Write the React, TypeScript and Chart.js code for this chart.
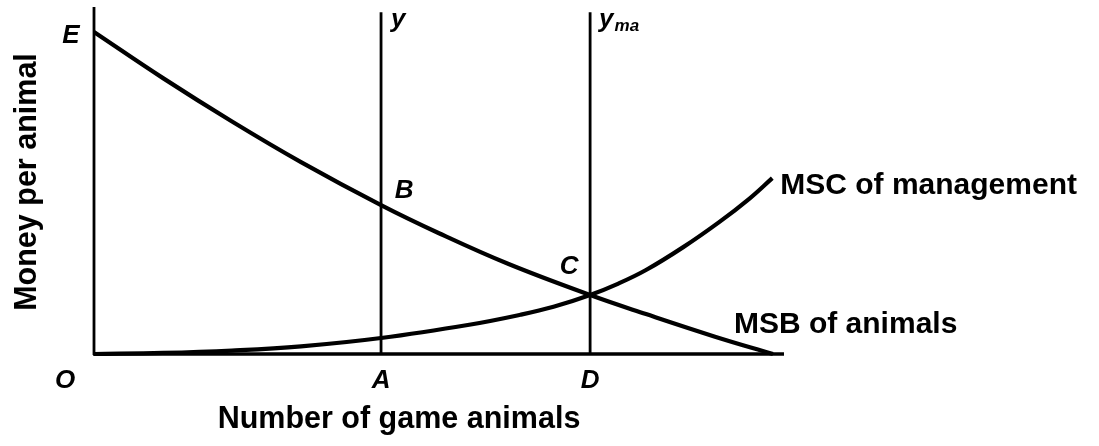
import { useEffect, useRef } from 'react';
import { Chart, registerables } from 'chart.js';

Chart.register(...registerables);

// ---- data ----
const msbX = [0, 10, 20, 30, 41.6, 50, 60, 71.9, 80, 90, 98.4];
const msbY = [92.8, 79.5, 67, 55.3, 42.9, 34.8, 26, 17, 11.5, 5, 0];

const mscX = [0, 10, 20, 30, 41.6, 54.6, 61.8, 66.6, 71.9, 76, 80, 85.4, 90.6, 95, 98.3];
const mscY = [0, 0.3, 1.0, 2.2, 4.6, 8.5, 11.3, 13.6, 17, 20.3, 24.2, 30.8, 38, 44.8, 50.7];

const markerX = [41.6, 71.9]; // A and D
const markerTop = 98.5;

const curveNames = ['MSB of animals', 'MSC of management'];
const axisTitleX = 'Number of game animals';
const axisTitleY = 'Money per animal';

const W = 1099;
const H = 446;

function pts(xs: number[], ys: number[]) {
  return xs.map((x, i) => ({ x, y: ys[i] }));
}

const FONT = '"Liberation Sans", Arial, sans-serif';

const drawPlugin = {
  id: 'econDraw',
  afterDatasetsDraw(chart: any) {
    const { ctx, chartArea, scales } = chart;
    const xs = scales.x;
    const ys = scales.y;
    ctx.save();
    ctx.strokeStyle = '#000';
    ctx.fillStyle = '#000';
    ctx.lineCap = 'butt';

    // axes
    ctx.lineWidth = 2.8;
    ctx.beginPath();
    ctx.moveTo(chartArea.left, chartArea.top);
    ctx.lineTo(chartArea.left, chartArea.bottom + 1);
    ctx.stroke();
    ctx.lineWidth = 3.5;
    ctx.beginPath();
    ctx.moveTo(chartArea.left - 1, chartArea.bottom);
    ctx.lineTo(chartArea.right, chartArea.bottom);
    ctx.stroke();

    // point letters
    ctx.font = `italic bold 26px ${FONT}`;
    ctx.textAlign = 'center';
    ctx.textBaseline = 'middle';
    const eY = ys.getPixelForValue(msbY[0]);
    ctx.fillText('E', chartArea.left - 23, eY + 4);
    ctx.fillText('O', chartArea.left - 29, chartArea.bottom + 27);
    ctx.fillText('A', xs.getPixelForValue(markerX[0]), chartArea.bottom + 27);
    ctx.fillText('D', xs.getPixelForValue(markerX[1]), chartArea.bottom + 27);
    const bY = ys.getPixelForValue(msbY[4]);
    ctx.fillText('B', xs.getPixelForValue(markerX[0]) + 23, bY - 14);
    const cY = ys.getPixelForValue(msbY[7]);
    ctx.fillText('C', xs.getPixelForValue(markerX[1]) - 21, cY - 28);

    // vertical line labels
    ctx.textAlign = 'left';
    ctx.textBaseline = 'alphabetic';
    const topPx = ys.getPixelForValue(markerTop);
    const x1 = xs.getPixelForValue(markerX[0]);
    const x2 = xs.getPixelForValue(markerX[1]);
    ctx.fillText('y', x1 + 10, topPx + 15);
    ctx.fillText('y', x2 + 9, topPx + 15);
    const yw = ctx.measureText('y').width;
    ctx.font = `italic bold 17px ${FONT}`;
    ctx.fillText('ma', x2 + 9 + yw + 1, topPx + 19);

    // curve labels
    ctx.font = `bold 30px ${FONT}`;
    ctx.textBaseline = 'middle';
    const mscEndX = xs.getPixelForValue(mscX[mscX.length - 1]);
    const mscEndY = ys.getPixelForValue(mscY[mscY.length - 1]);
    ctx.fillText(curveNames[1], mscEndX + 8, mscEndY + 8);
    const msbEndX = xs.getPixelForValue(msbX[msbX.length - 1]);
    ctx.fillText(curveNames[0], msbEndX - 39, chartArea.bottom - 29);

    // axis titles
    ctx.textAlign = 'center';
    ctx.font = `bold 30.5px ${FONT}`;
    ctx.fillText(axisTitleX, 399, chartArea.bottom + 66);
    ctx.save();
    ctx.translate(28, 182);
    ctx.rotate(-Math.PI / 2);
    ctx.fillText(axisTitleY, 0, 0);
    ctx.restore();

    ctx.restore();
  },
};

export default function App() {
  const ref = useRef<HTMLCanvasElement | null>(null);

  useEffect(() => {
    if (!ref.current) return;
    const lineStyle = {
      borderColor: '#000',
      backgroundColor: '#000',
      pointRadius: 0,
      fill: false,
      clip: false as any,
    };
    const chart = new Chart(ref.current, {
      type: 'line',
      data: {
        datasets: [
          {
            ...lineStyle,
            label: curveNames[0],
            data: pts(msbX, msbY),
            borderWidth: 4.2,
            tension: 0.4,
          },
          {
            ...lineStyle,
            label: curveNames[1],
            data: pts(mscX, mscY),
            borderWidth: 4.2,
            tension: 0.4,
          },
          {
            ...lineStyle,
            label: 'y',
            data: [
              { x: markerX[0], y: 0 },
              { x: markerX[0], y: markerTop },
            ],
            borderWidth: 2.8,
          },
          {
            ...lineStyle,
            label: 'y_ma',
            data: [
              { x: markerX[1], y: 0 },
              { x: markerX[1], y: markerTop },
            ],
            borderWidth: 2.8,
          },
        ],
      } as any,
      options: {
        responsive: false,
        animation: false,
        devicePixelRatio: 1,
        layout: { padding: { left: 94, right: W - 784, top: 7, bottom: H - 354 } },
        plugins: {
          legend: { display: false },
          tooltip: { enabled: false },
        },
        scales: {
          x: { type: 'linear', min: 0, max: 100, display: false },
          y: { type: 'linear', min: 0, max: 100, display: false },
        },
      },
      plugins: [drawPlugin],
    });
    return () => chart.destroy();
  }, []);

  return (
    <div style={{ position: 'fixed', left: 0, top: 0, width: W, height: H, background: '#fff' }}>
      <canvas ref={ref} width={W} height={H} style={{ display: 'block', width: W, height: H }} />
    </div>
  );
}
